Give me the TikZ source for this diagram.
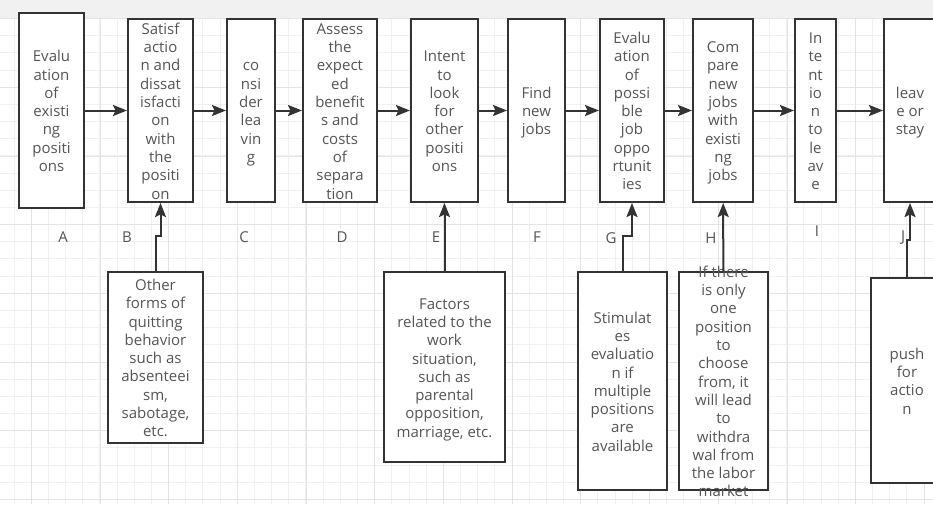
\documentclass[tikz,border=0pt]{standalone}
\usepackage{fontspec}
\setmainfont{Open Sans}
\usetikzlibrary{arrows.meta}
\definecolor{boxline}{HTML}{333333}
\definecolor{txtgray}{HTML}{555555}
\definecolor{gridminor}{HTML}{F0F0F0}
\definecolor{gridmajor}{HTML}{E4E4E4}
\definecolor{topbar}{HTML}{F1F1F1}
% centred text of no size, so that it may run out of its box
\newcommand{\stagetext}[1]{\vbox to 0pt{\vss\hbox to 0pt{\hss\begin{tabular}{@{}c@{}}#1\end{tabular}\hss}\vss\kern-5pt}}
\tikzset{
	stage/.style={draw=boxline, line width=2pt, fill=white, inner sep=0pt, text=txtgray},
	letter/.style={inner sep=0pt, text=txtgray},
	flow/.style={draw=boxline, line width=2pt, -{Stealth[length=14pt, width=11pt, inset=2.5pt]}},
	minorgrid/.style={draw=gridminor, line width=0.8pt},
	majorgrid/.style={draw=gridmajor, line width=0.8pt}
}

\begin{document}
\begin{tikzpicture}[x=1pt, y=-1pt, font=\fontsize{15}{18.3}\selectfont]
	\useasboundingbox (0,0) rectangle (933,504);
	% grid
	\fill[white] (0,0) rectangle (933,504);
	\fill[topbar] (0,0) rectangle (933,18);
	\foreach \k in {0,...,54}
		\draw[minorgrid] ({14+\k*17.17},18.5) -- ({14+\k*17.17},504);
	\foreach \k in {0,...,28}
		\draw[minorgrid] (0,{18.5+\k*17.17}) -- (933,{18.5+\k*17.17});
	\foreach \k in {0,...,13}
		\draw[majorgrid] ({31.2+\k*68.7},18.5) -- ({31.2+\k*68.7},504);
	\foreach \k in {0,...,7}
		\draw[majorgrid] (0,{18.5+\k*68.7}) -- (933,{18.5+\k*68.7});

	\node [stage, line width=2.6pt, minimum width=65, minimum height=195] (0) at (51.5, 110.5) {\stagetext{Evalu\\ation\\of\\existi\\ng\\positi\\ons}};
	\node [stage, minimum width=65, minimum height=183] (1) at (160.5, 110.5) {\stagetext{Satisf\\actio\\n and\\dissat\\isfacti\\on\\with\\the\\positi\\on}};
	\node [stage, minimum width=48, minimum height=183] (2) at (251, 110.5) {\stagetext{co\\nsi\\der\\lea\\vin\\g}};
	\node [stage, minimum width=74, minimum height=183] (3) at (340, 110.5) {\stagetext{Assess\\the\\expect\\ed\\benefit\\s and\\costs\\of\\separa\\tion}};
	\node [stage, minimum width=67, minimum height=183] (4) at (444.5, 110.5) {\stagetext{Intent\\to\\look\\for\\other\\positi\\ons}};
	\node [stage, minimum width=57, minimum height=183] (5) at (536.5, 110.5) {\stagetext{Find\\new\\jobs}};
	\node [stage, minimum width=64, minimum height=183] (6) at (632, 110.5) {\stagetext{Evalu\\ation\\of\\possi\\ble\\job\\oppo\\rtunit\\ies}};
	\node [stage, minimum width=60, minimum height=183] (7) at (723, 110.5) {\stagetext{Com\\pare\\new\\jobs\\with\\existi\\ng\\jobs}};
	\node [stage, minimum width=41, minimum height=183] (8) at (815.5, 110.5) {\stagetext{In\\te\\nt\\io\\n\\to\\le\\av\\e}};
	\node [stage, minimum width=52, minimum height=183] (9) at (910, 110.5) {\stagetext{leav\\e or\\stay}};

	\node [stage, minimum width=95, minimum height=171] (10) at (155.5, 357.5) {\stagetext{Other\\forms of\\quitting\\behavior\\such as\\absenteei\\sm,\\sabotage,\\etc.}};
	\node [stage, minimum width=121, minimum height=190] (11) at (444.5, 367) {\stagetext{Factors\\related to the\\work\\situation,\\such as\\parental\\opposition,\\marriage, etc.}};
	\node [stage, minimum width=89, minimum height=218] (12) at (622.5, 381) {\stagetext{Stimulat\\es\\evaluatio\\n if\\multiple\\positions\\are\\available}};
	\node [stage, minimum width=89, minimum height=218] (13) at (723.5, 381) {\stagetext{If there\\is only\\one\\position\\to\\choose\\from, it\\will lead\\to\\withdra\\wal from\\the labor\\market}};
	\node [stage, minimum width=72, minimum height=205] (14) at (907, 380.5) {\stagetext{push\\for\\actio\\n}};

	\node [letter] (15) at (63, 237) {A};
	\node [letter] (16) at (127, 237) {B};
	\node [letter] (17) at (244, 237) {C};
	\node [letter] (18) at (342, 237) {D};
	\node [letter] (19) at (436, 237) {E};
	\node [letter] (20) at (537, 237) {F};
	\node [letter] (21) at (611, 238) {G};
	\node [letter] (22) at (711, 238) {H};
	\node [letter] (23) at (817, 231) {I};
	\node [letter] (24) at (903, 238) {J};
	% edges
	\draw [flow] (0) to (1);
	\draw [flow] (1) to (2);
	\draw [flow] (2) to (3);
	\draw [flow] (3) to (4);
	\draw [flow] (4) to (5);
	\draw [flow] (5) to (6);
	\draw [flow] (6) to (7);
	\draw [flow] (7) to (8);
	\draw [flow] (8) to (9);
	\draw [flow] (10.north) -- ++(0,-35) -| (1.south);
	\draw [flow] (11) to (4);
	\draw [flow] (12.north) -- ++(0,-35) -| (6.south);
	\draw [flow] (13) to (7);
	\draw [flow] (14.north) -- ++(0,-37) -| (9.south);
\end{tikzpicture}
\end{document}
